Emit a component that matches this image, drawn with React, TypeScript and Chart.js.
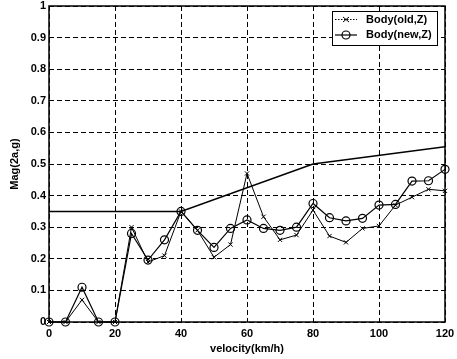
import React, { useEffect, useRef } from 'react';
import { Chart, registerables } from 'chart.js';

Chart.register(...registerables);

const speeds = [0, 5, 10, 15, 20, 25, 30, 35, 40, 45, 50, 55, 60, 65, 70, 75, 80, 85, 90, 95, 100, 105, 110, 115, 120];
const bodyOld = [0, 0, 0.07, 0, 0, 0.3, 0.19, 0.21, 0.35, 0.29, 0.205, 0.245, 0.47, 0.333, 0.26, 0.275, 0.354, 0.272, 0.252, 0.296, 0.304, 0.37, 0.395, 0.42, 0.415];
const bodyNew = [0, 0, 0.11, 0, 0, 0.28, 0.196, 0.26, 0.35, 0.29, 0.236, 0.296, 0.323, 0.296, 0.29, 0.3, 0.375, 0.33, 0.32, 0.328, 0.37, 0.372, 0.446, 0.447, 0.483];
const limitSpeeds = [0, 40, 80, 120];
const limitValues = [0.35, 0.35, 0.5, 0.555];
const xTitle = 'velocity(km/h)';
const yTitle = 'Mag(2a,g)';
const legendLabels = ['Body(old,Z)', 'Body(new,Z)'];

const FONT = 'bold 11px "Liberation Sans", Arial, sans-serif';

const framePlugin = {
  id: 'frame',
  afterDatasetsDraw(chart: any) {
    const { ctx, chartArea } = chart;
    const { left, right, top, bottom } = chartArea;
    ctx.save();
    ctx.setLineDash([]);
    ctx.strokeStyle = '#000';
    ctx.lineWidth = 1.5;
    ctx.strokeRect(left, top, right - left, bottom - top);

    // axis titles
    ctx.fillStyle = '#000';
    ctx.font = FONT;
    ctx.textAlign = 'center';
    ctx.textBaseline = 'middle';
    ctx.fillText(xTitle, (left + right) / 2, 349);
    ctx.save();
    ctx.translate(15, (top + bottom) / 2);
    ctx.rotate(-Math.PI / 2);
    ctx.fillText(yTitle, 0, 0);
    ctx.restore();

    // legend
    const bx = 332, by = 11, bw = 105, bh = 34;
    ctx.fillStyle = '#fff';
    ctx.fillRect(bx, by, bw, bh);
    ctx.lineWidth = 1;
    ctx.strokeStyle = '#000';
    ctx.strokeRect(bx + 0.5, by + 0.5, bw, bh);
    const rows = [19.5, 35];
    // row 1: dotted line with x marker
    ctx.beginPath();
    ctx.setLineDash([1.5, 1.5]);
    ctx.moveTo(335, rows[0]);
    ctx.lineTo(357, rows[0]);
    ctx.stroke();
    ctx.setLineDash([]);
    ctx.beginPath();
    ctx.moveTo(343, rows[0] - 2.5);
    ctx.lineTo(349, rows[0] + 2.5);
    ctx.moveTo(349, rows[0] - 2.5);
    ctx.lineTo(343, rows[0] + 2.5);
    ctx.stroke();
    // row 2: solid line with circle
    ctx.beginPath();
    ctx.lineWidth = 1.2;
    ctx.moveTo(335, rows[1]);
    ctx.lineTo(357, rows[1]);
    ctx.stroke();
    ctx.beginPath();
    ctx.arc(346, rows[1], 4, 0, Math.PI * 2);
    ctx.stroke();
    ctx.fillStyle = '#000';
    ctx.textAlign = 'left';
    ctx.fillText(legendLabels[0], 366, rows[0]);
    ctx.fillText(legendLabels[1], 366, rows[1]);
    ctx.restore();
  },
};

export default function App() {
  const ref = useRef<HTMLCanvasElement | null>(null);
  useEffect(() => {
    if (!ref.current) return;
    const tickFont = { family: '"Liberation Sans", Arial, sans-serif', size: 11, weight: 'bold' as const };
    const chart = new Chart(ref.current, {
      type: 'line',
      data: {
        datasets: [
          {
            label: 'limit',
            data: limitSpeeds.map((x, i) => ({ x, y: limitValues[i] })),
            borderColor: '#000',
            borderWidth: 1.5,
            pointRadius: 0,
            fill: false,
          },
          {
            label: legendLabels[0],
            data: speeds.map((x, i) => ({ x, y: bodyOld[i] })),
            borderColor: '#000',
            borderWidth: 1,
            pointStyle: 'crossRot',
            pointRadius: 3,
            pointBorderWidth: 1,
            pointBorderColor: '#000',
            fill: false,
            clip: false,
          },
          {
            label: legendLabels[1],
            data: speeds.map((x, i) => ({ x, y: bodyNew[i] })),
            borderColor: '#000',
            borderWidth: 1.2,
            pointStyle: 'circle',
            pointRadius: 4,
            pointBorderWidth: 1.2,
            pointBorderColor: '#000',
            pointBackgroundColor: 'rgba(0,0,0,0)',
            fill: false,
            clip: false,
          },
        ] as any,
      },
      options: {
        animation: false,
        responsive: false,
        devicePixelRatio: 1,
        layout: { padding: { top: 6, right: 12, left: 0, bottom: 0 } },
        plugins: { legend: { display: false }, tooltip: { enabled: false } },
        scales: {
          x: {
            type: 'linear',
            min: 0,
            max: 120,
            ticks: { stepSize: 20, color: '#000', font: tickFont, padding: 5, maxRotation: 0 },
            grid: { color: '#000', lineWidth: 1, drawTicks: false },
            border: { display: false, dash: [5, 3] },
            afterFit: (s: any) => { s.height = 37; s.paddingLeft = 0; s.paddingRight = 0; },
          },
          y: {
            type: 'linear',
            min: 0,
            max: 1,
            ticks: {
              stepSize: 0.1,
              color: '#000',
              font: tickFont,
              padding: 3,
              callback: (v: any) => (v === 0 ? '0' : v === 1 ? '1' : Number(v).toFixed(1)),
            },
            grid: { color: '#000', lineWidth: 1, drawTicks: false },
            border: { display: false, dash: [5, 3] },
            afterFit: (s: any) => { s.width = 49; s.paddingTop = 0; s.paddingBottom = 0; },
          },
        },
      } as any,
      plugins: [framePlugin],
    });
    return () => chart.destroy();
  }, []);
  return (
    <div style={{ position: 'fixed', left: 0, top: 0, width: 457, height: 359, background: '#fff' }}>
      <canvas ref={ref} width={457} height={359} />
    </div>
  );
}
